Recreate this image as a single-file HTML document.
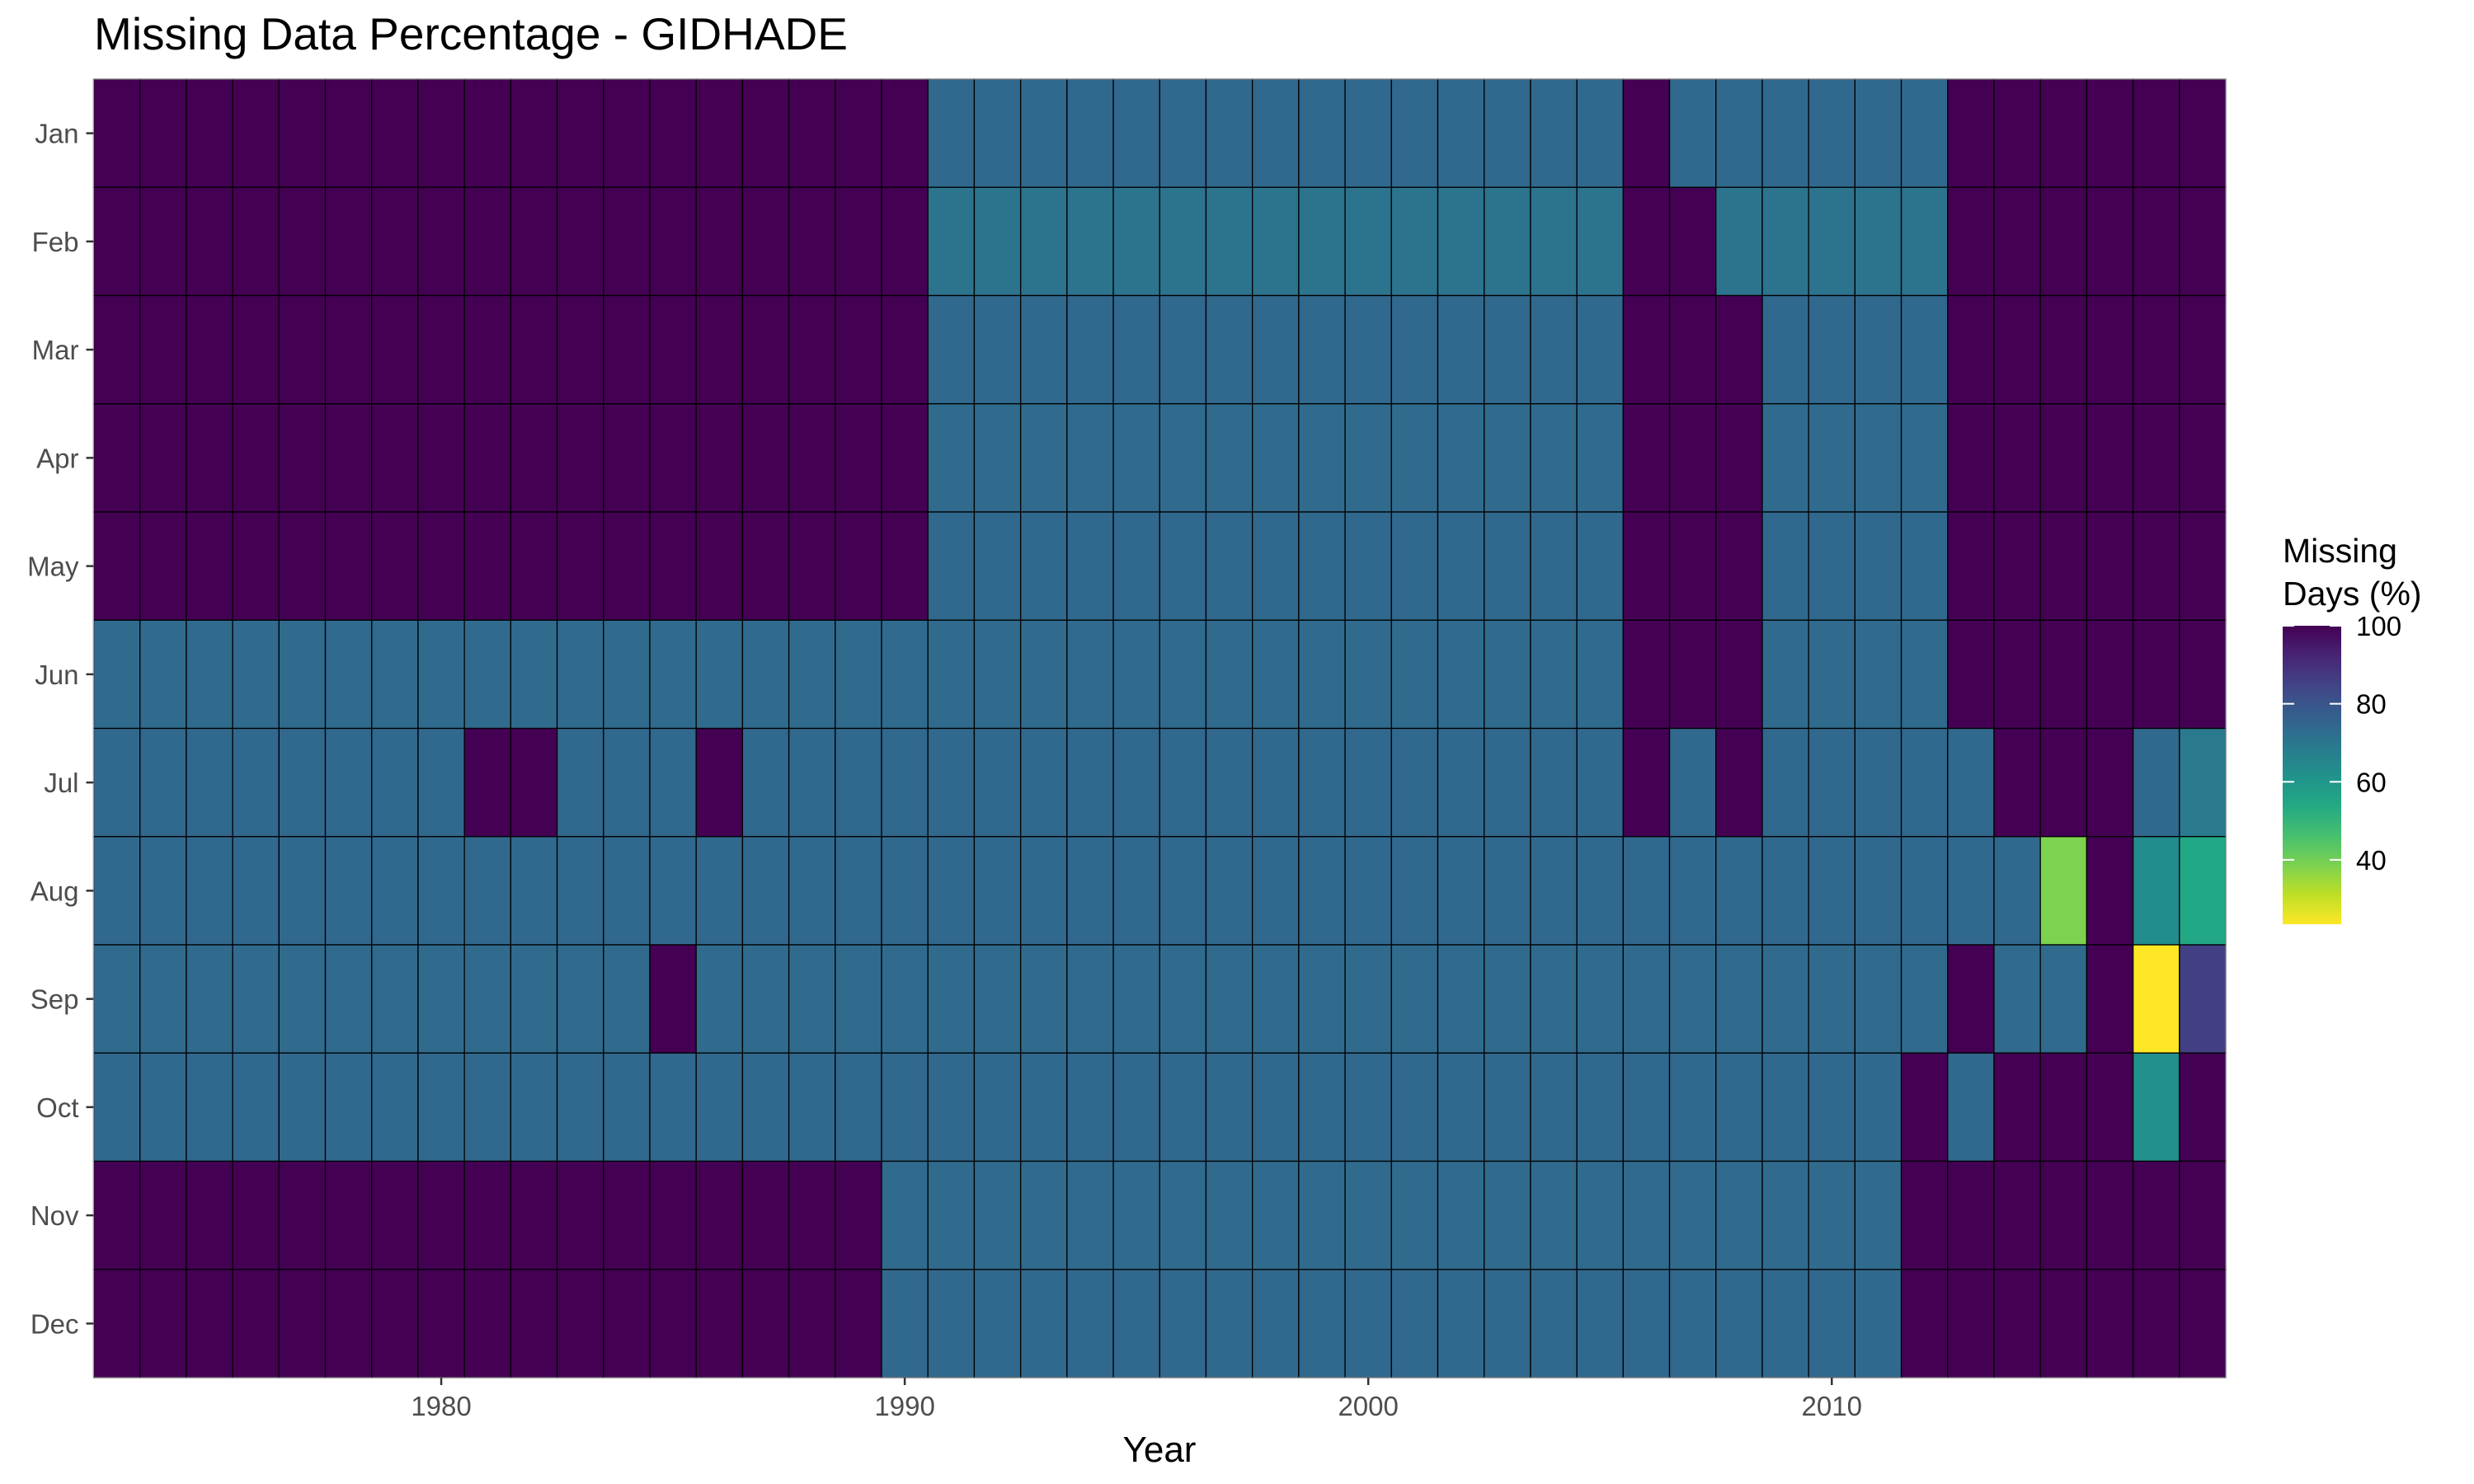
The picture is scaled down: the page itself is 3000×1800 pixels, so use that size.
<!DOCTYPE html>
<html><head><meta charset="utf-8"><style>
html,body{margin:0;padding:0;background:#fff;}
svg{display:block;font-family:"Liberation Sans",Arial,sans-serif;}
</style></head><body>
<svg id="chart" width="3000" height="1800" viewBox="0 0 3000 1800" xmlns="http://www.w3.org/2000/svg">
<rect x="0" y="0" width="3000" height="1800" fill="#fff"/>
<text x="114" y="60" font-size="55" fill="#000">Missing Data Percentage - GIDHADE</text>
<g id="cells"></g>
<g id="yaxis"></g>
<g id="xaxis"></g>
<text x="1406" y="1773" font-size="44" text-anchor="middle" fill="#000">Year</text>
<g id="legend">
<text x="2768" y="682" font-size="41" fill="#000">Missing</text>
<text x="2768" y="734" font-size="41" fill="#000">Days (%)</text>
</g>
</svg>
<script>
const months = ["Jan","Feb","Mar","Apr","May","Jun","Jul","Aug","Sep","Oct","Nov","Dec"];
const firstYear = 1973;
const lastYear = 2018;
const xTicks = [1980, 1990, 2000, 2010];
const legendTicks = [100, 80, 60, 40];
const valueMin = 23.5;
const valueMax = 100;
const monthBase = [74.2, 71.0, 74.2, 73.3, 74.2, 73.3, 74.2, 74.2, 73.3, 74.2, 73.3, 74.2];
const fullMissingRanges = [
  [0,1973,1990],[0,2006,2006],[0,2013,2018],
  [1,1973,1990],[1,2006,2007],[1,2013,2018],
  [2,1973,1990],[2,2006,2008],[2,2013,2018],
  [3,1973,1990],[3,2006,2008],[3,2013,2018],
  [4,1973,1990],[4,2006,2008],[4,2013,2018],
  [5,2006,2008],[5,2013,2018],
  [6,1981,1982],[6,1986,1986],[6,2006,2006],[6,2008,2008],[6,2014,2016],
  [7,2016,2016],
  [8,1985,1985],[8,2013,2013],[8,2016,2016],
  [9,2012,2012],[9,2014,2016],[9,2018,2018],
  [10,1973,1989],[10,2012,2018],
  [11,1973,1989],[11,2012,2018]
];
const specialValues = [
  [6,2018,69],[7,2015,38.5],[7,2017,63],[7,2018,54],
  [8,2017,23.5],[8,2018,86],[9,2017,62]
];

const PL=113.5, PR=2699, PT=96, PB=1671;
const nYears = lastYear-firstYear+1;
const colW = (PR-PL)/nYears, rowH = (PB-PT)/months.length;
function xScale(y){return PL+(y-firstYear)*colW;}
function yScale(m){return PT+m*rowH;}
const vir=["#440154","#482475","#414487","#355f8d","#2a788e","#21918c","#22a884","#44bf70","#7ad151","#bddf26","#fde725"];
function hex(c){return [1,3,5].map(i=>parseInt(c.substr(i,2),16));}
function color(v){
  let t=(valueMax-v)/(valueMax-valueMin); t=Math.max(0,Math.min(1,t));
  const p=t*10, i=Math.min(9,Math.floor(p)), f=p-i;
  const a=hex(vir[i]), b=hex(vir[i+1]);
  return "rgb("+a.map((x,k)=>Math.round(x+(b[k]-x)*f)).join(",")+")";
}
const NS="http://www.w3.org/2000/svg";
function mk(tag,attrs,parent){const e=document.createElementNS(NS,tag);for(const k in attrs)e.setAttribute(k,attrs[k]);parent.appendChild(e);return e;}

const grid = months.map((m,i)=>{const r=[];for(let y=firstYear;y<=lastYear;y++)r.push(monthBase[i]);return r;});
fullMissingRanges.forEach(([m,a,b])=>{for(let y=a;y<=b;y++)grid[m][y-firstYear]=100;});
specialValues.forEach(([m,y,v])=>{grid[m][y-firstYear]=v;});

const cells=document.getElementById('cells');
for(let m=0;m<months.length;m++){
  for(let y=firstYear;y<=lastYear;y++){
    const r=mk('rect',{x:xScale(y),y:yScale(m),width:colW,height:rowH,fill:color(grid[m][y-firstYear]),stroke:"#000","stroke-width":1.3},cells);
    
    
  }
}
mk('rect',{x:PL,y:PT,width:PR-PL,height:PB-PT,fill:"none",stroke:"#999","stroke-width":1},cells);

const ya=document.getElementById('yaxis');
months.forEach((m,i)=>{
  const cy=yScale(i)+rowH/2;
  const t=mk('line',{x1:PL-9,x2:PL,y1:cy,y2:cy,stroke:"#333","stroke-width":2.5},ya);
  
  
  const l=mk('text',{x:PL-18,y:cy+12,"font-size":33,"text-anchor":"end",fill:"#4d4d4d"},ya);
  l.textContent=m;
  
  
});
const xa=document.getElementById('xaxis');
xTicks.forEach(y=>{
  const cx=xScale(y)+colW/2;
  const t=mk('line',{x1:cx,x2:cx,y1:PB,y2:PB+9,stroke:"#333","stroke-width":2.5},xa);
  
  
  const l=mk('text',{x:cx,y:PB+46,"font-size":33,"text-anchor":"middle",fill:"#4d4d4d"},xa);
  l.textContent=y;
  
  
});

const lg=document.getElementById('legend');
const LX=2768, LW=71, LT=759, LB=1121;
function lyScale(v){return LT+(valueMax-v)/(valueMax-valueMin)*(LB-LT);}
const defs=mk('defs',{},lg);
const grad=mk('linearGradient',{id:"vg",x1:0,y1:0,x2:0,y2:1},defs);
vir.forEach((c,i)=>mk('stop',{offset:(i*10)+"%","stop-color":c},grad));
const bar=mk('rect',{x:LX,y:LT,width:LW,height:LB-LT,fill:"url(#vg)"},lg);


legendTicks.forEach(v=>{
  const yy=lyScale(v);
  mk('line',{x1:LX,x2:LX+14,y1:yy,y2:yy,stroke:"#fff","stroke-width":2},lg);
  mk('line',{x1:LX+LW-14,x2:LX+LW,y1:yy,y2:yy,stroke:"#fff","stroke-width":2},lg);
  const l=mk('text',{x:LX+LW+18,y:yy+12,"font-size":33,fill:"#000"},lg);
  l.textContent=v;
  
  
});
</script>
</body></html>
